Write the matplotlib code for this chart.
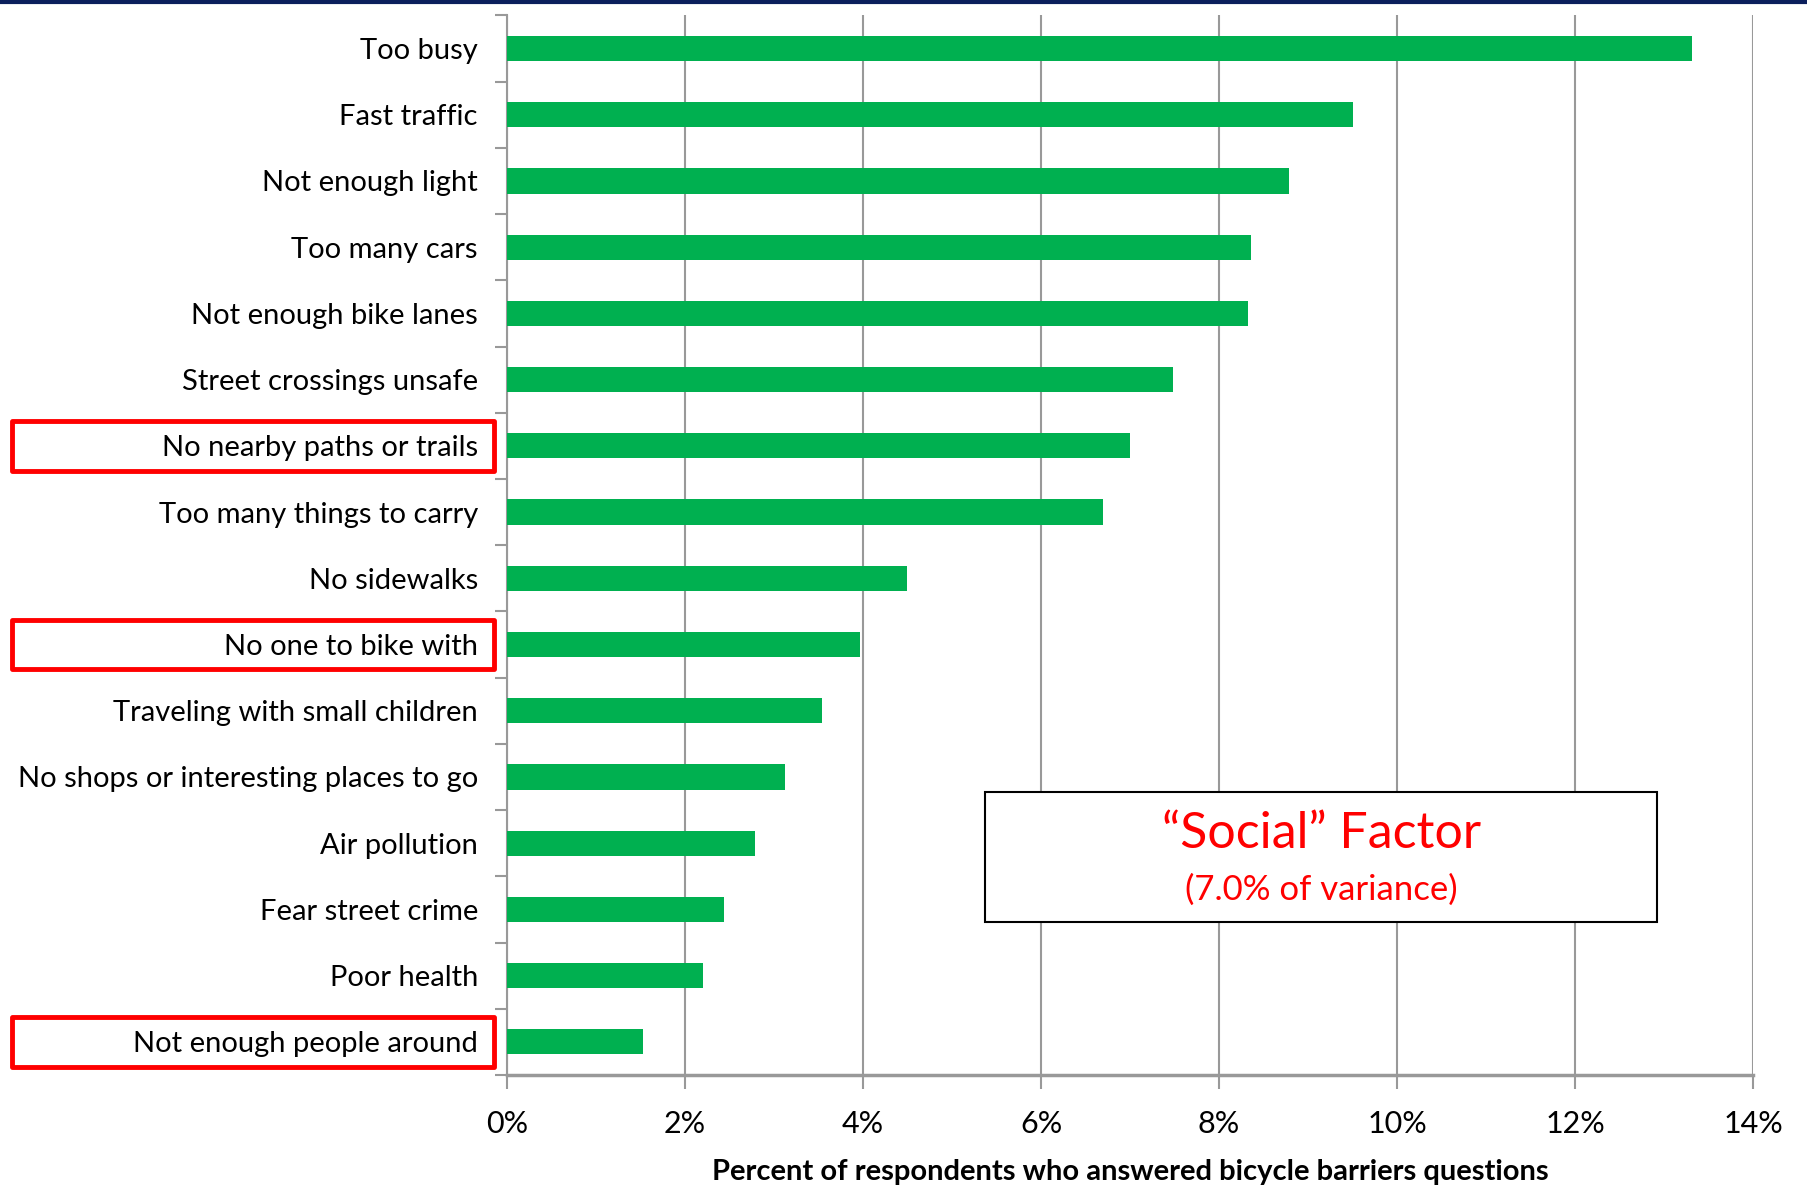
import numpy as np
import matplotlib
matplotlib.use("Agg")
import matplotlib.pyplot as plt
from matplotlib.patches import Rectangle
from matplotlib.lines import Line2D
import matplotlib.transforms as mtransforms

# barriers, top to bottom
categories = ['Too busy', 'Fast traffic', 'Not enough light', 'Too many cars',
              'Not enough bike lanes', 'Street crossings unsafe',
              'No nearby paths or trails', 'Too many things to carry',
              'No sidewalks', 'No one to bike with',
              'Traveling with small children',
              'No shops or interesting places to go', 'Air pollution',
              'Fear street crime', 'Poor health', 'Not enough people around']
percent = [13.31, 9.50, 8.79, 8.36, 8.32, 7.48, 7.00, 6.70,
           4.49, 3.97, 3.54, 3.12, 2.79, 2.44, 2.20, 1.53]
highlighted = ['No nearby paths or trails', 'No one to bike with',
               'Not enough people around']
x_ticks = [0, 2, 4, 6, 8, 10, 12, 14]

plt.rcParams['font.family'] = ['Lato', 'DejaVu Sans']

fig = plt.figure(figsize=(18.08, 11.87), dpi=100)
ax = fig.add_axes([0.2805, 0.0944, 0.6891, 0.8926])

y = np.arange(len(categories))
ax.barh(y, percent, height=0.38, color='#00B050', zorder=3)

ax.set_xlim(0, 14)
ax.set_ylim(len(categories) - 0.5, -0.5)
ax.set_xticks(x_ticks)
ax.set_xticklabels([f'{t}%' for t in x_ticks], fontsize=22)
ax.set_yticks(y)
ax.set_yticklabels(categories, fontsize=21)
ax.set_yticks(np.arange(len(categories) + 1) - 0.5, minor=True)

ax.tick_params(axis='y', which='major', length=0, pad=21)
ax.tick_params(axis='y', which='minor', length=9, width=1.5, color='#999999')
ax.tick_params(axis='x', length=10, width=1.5, color='#999999', pad=15)

ax.grid(axis='x', color='#999999', linewidth=1.5, zorder=0)
for s in ['top', 'right']:
    ax.spines[s].set_visible(False)
ax.spines['left'].set_color('#999999')
ax.spines['left'].set_linewidth(1.5)
ax.spines['bottom'].set_color('#999999')
ax.spines['bottom'].set_linewidth(2.5)

ax.set_xlabel('Percent of respondents who answered bicycle barriers questions',
              fontsize=21, fontweight='bold', labelpad=15)

# red boxes around the social factor items
trans = mtransforms.blended_transform_factory(fig.transFigure, ax.transData)
for name in highlighted:
    i = categories.index(name)
    fig.add_artist(Rectangle((0.0064, i - 0.375), 0.2666, 0.75, transform=trans,
                             fill=False, edgecolor='#FF0000', linewidth=3.5,
                             joinstyle='round'))

# annotation box
ax.add_patch(Rectangle((0.3833, 0.1447), 0.5398, 0.1219, transform=ax.transAxes,
                       facecolor='white', edgecolor='black', linewidth=1.5,
                       zorder=5))
ax.text(0.6537, 0.2275, '\u201cSocial\u201d Factor', transform=ax.transAxes,
        ha='center', va='center', color='#FF0000', fontsize=36, zorder=6)
ax.text(0.6537, 0.1752, '(7.0% of variance)', transform=ax.transAxes,
        ha='center', va='center', color='#FF0000', fontsize=25, zorder=6)

# dark line along the top edge
fig.add_artist(Line2D([0, 1], [0.9985, 0.9985], transform=fig.transFigure,
                      color='#0B1F5C', linewidth=3))

fig.savefig('out.png', dpi=100)
